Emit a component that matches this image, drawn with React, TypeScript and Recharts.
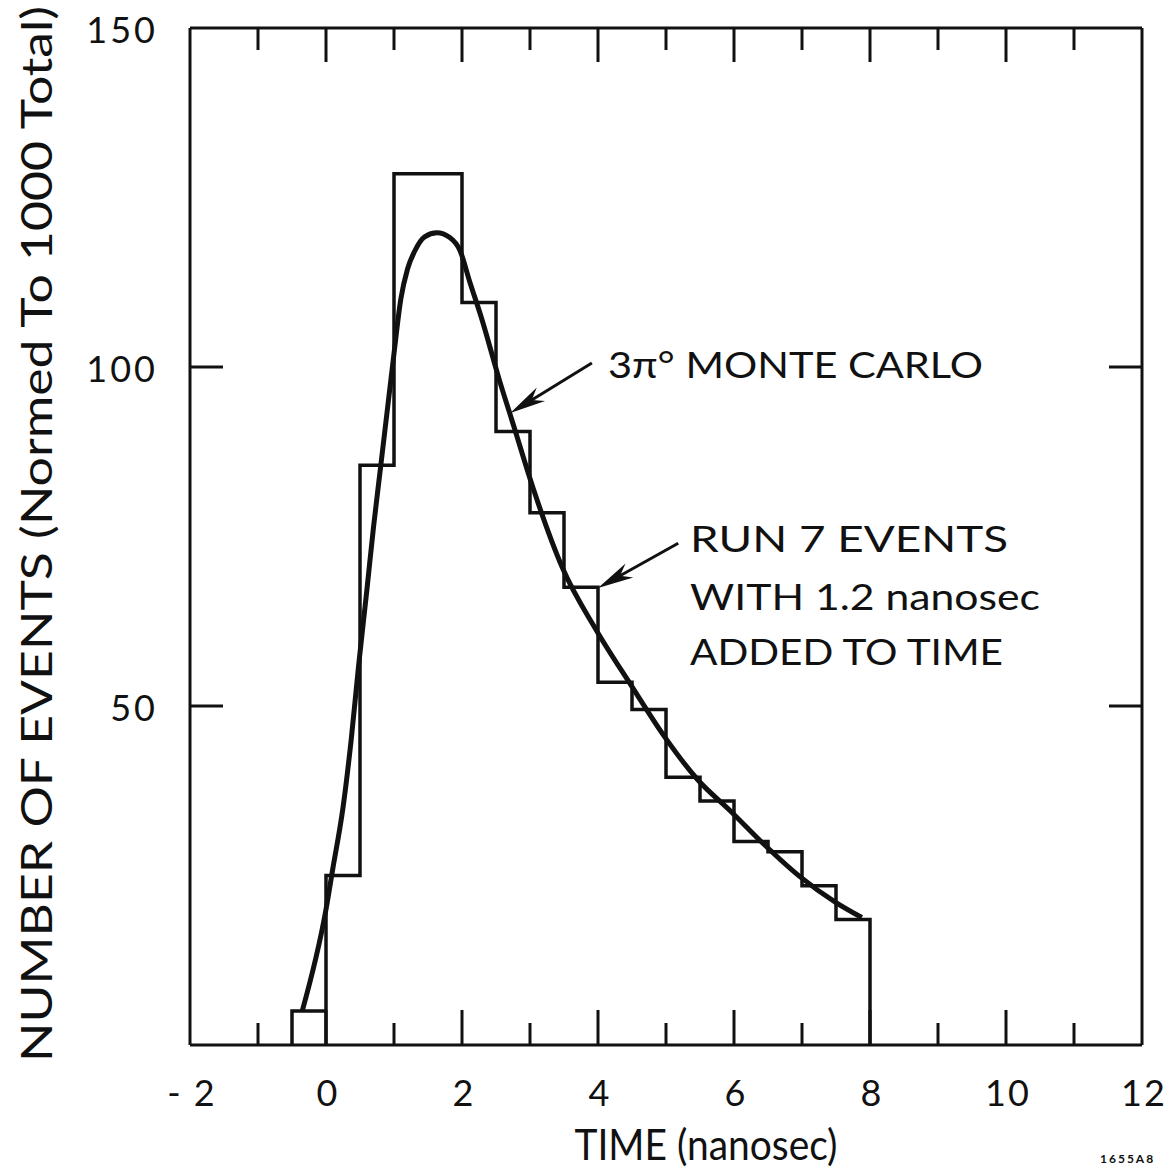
import {
    ComposedChart,
    Line,
    XAxis,
    YAxis,
    ReferenceLine,
} from "recharts";

// histogram: 0.5 ns bins, left edges and heights
const binStarts = [-0.5, 0, 0.5, 1.0, 1.5, 2.0, 2.5, 3.0, 3.5, 4.0, 4.5, 5.0, 5.5, 6.0, 6.5, 7.0, 7.5];
const binCounts = [5, 25, 85.5, 128.5, 128.5, 109.5, 90.5, 78.5, 67.5, 53.5, 49.5, 39.5, 36, 30, 28.5, 23.5, 18.5];
const binWidth = 0.5;

// 3 pi0 Monte Carlo curve
const mcTime = [-0.35, 0.0, 0.1, 0.25, 0.37, 0.48, 0.6, 0.7, 0.8, 0.9, 1.0, 1.1, 1.2, 1.3, 1.45, 1.63, 1.82, 1.97, 2.11, 2.3, 2.54, 2.77, 3.05, 3.48, 3.98, 4.49, 4.97, 5.46, 5.97, 6.44, 6.96, 7.5, 7.88];
const mcEvents = [5, 20, 26, 35, 45, 56, 67, 76.5, 85, 93.5, 102, 110, 114.5, 117, 119.2, 119.8, 119.1, 117.2, 112.7, 106.8, 98.4, 91, 82, 70.3, 61.1, 53, 45.6, 39.2, 34.3, 29.6, 24.9, 21, 18.8];

const xTicks = [-2, -1, 0, 1, 2, 3, 4, 5, 6, 7, 8, 9, 10, 11, 12];
const xTickLabels = ["- 2", "", "0", "", "2", "", "4", "", "6", "", "8", "", "10", "", "12"];
const yTicks = [0, 50, 100, 150];
const yTickLabels = ["", "50", "100", "150"];

// arrows: [tail, tip] in data units
const mcArrow = [{ x: 3.91, y: 100.6 }, { x: 2.71, y: 93.2 }];
const runArrow = [{ x: 5.18, y: 74.0 }, { x: 4.0, y: 67.4 }];

const FONT = "Lato, 'DejaVu Sans', sans-serif";
const INK = "#111";

function buildHistogram() {
    const pts: { x: number; y: number }[] = [];
    const first = binStarts[0];
    pts.push({ x: first, y: 0 });
    pts.push({ x: first, y: binCounts[0] });
    // close the first box down to the baseline
    pts.push({ x: first + binWidth, y: 0 });
    for (let i = 1; i < binStarts.length; i++) {
        pts.push({ x: binStarts[i], y: binCounts[i] });
    }
    const end = binStarts[binStarts.length - 1] + binWidth;
    pts.push({ x: end, y: binCounts[binCounts.length - 1] });
    pts.push({ x: end, y: 0 });
    return pts;
}

const histData = buildHistogram();
const curveData = mcTime.map((t, i) => ({ x: t, y: mcEvents[i] }));

function BottomTick(props: any) {
    const { x, y, payload } = props;
    const v = payload.value;
    const i = xTicks.indexOf(v);
    const major = v % 2 === 0;
    const inner = v > xTicks[0] && v < xTicks[xTicks.length - 1];
    return (
        <g>
            {inner && (
                <line x1={x} y1={y} x2={x} y2={y - (major ? 35 : 22)} stroke={INK} strokeWidth={3} />
            )}
            <text x={x + 2} y={y + 61} textAnchor="middle" fontSize={36} letterSpacing={2} fontFamily={FONT} fill={INK}>
                {xTickLabels[i]}
            </text>
        </g>
    );
}

function TopTick(props: any) {
    const { x, y, payload } = props;
    const v = payload.value;
    const major = v % 2 === 0;
    const inner = v > xTicks[0] && v < xTicks[xTicks.length - 1];
    if (!inner) return <g />;
    return <line x1={x} y1={y} x2={x} y2={y + (major ? 34 : 22)} stroke={INK} strokeWidth={3} />;
}

function LeftTick(props: any) {
    const { x, y, payload } = props;
    const v = payload.value;
    const i = yTicks.indexOf(v);
    const inner = v > yTicks[0] && v < yTicks[yTicks.length - 1];
    return (
        <g>
            {inner && <line x1={x} y1={y} x2={x + 33} y2={y} stroke={INK} strokeWidth={3} />}
            <text x={x - 32} y={y + 15} textAnchor="end" fontSize={36} letterSpacing={3} fontFamily={FONT} fill={INK}>
                {yTickLabels[i]}
            </text>
        </g>
    );
}

function RightTick(props: any) {
    const { x, y, payload } = props;
    const v = payload.value;
    const inner = v > yTicks[0] && v < yTicks[yTicks.length - 1];
    if (!inner) return <g />;
    return <line x1={x} y1={y} x2={x - 33} y2={y} stroke={INK} strokeWidth={3} />;
}

function Arrow(props: any) {
    const { x1, y1, x2, y2 } = props;
    const ang = Math.atan2(y2 - y1, x2 - x1);
    const len = 36;
    const half = 8;
    const bx = x2 - len * Math.cos(ang);
    const by = y2 - len * Math.sin(ang);
    const nx = -Math.sin(ang) * half;
    const ny = Math.cos(ang) * half;
    const mx = bx + len * 0.3 * Math.cos(ang);
    const my = by + len * 0.3 * Math.sin(ang);
    return (
        <g>
            <line x1={x1} y1={y1} x2={mx} y2={my} stroke={INK} strokeWidth={3} />
            <polygon points={`${x2},${y2} ${bx + nx},${by + ny} ${mx},${my} ${bx - nx},${by - ny}`} fill={INK} />
        </g>
    );
}

const axisLine = { stroke: INK, strokeWidth: 3 };

export default function App() {
    return (
        <div style={{ position: "absolute", left: 0, top: 0, width: 1168, height: 1174, background: "#fff" }}>
            <ComposedChart
                width={1168}
                height={1174}
                margin={{ top: 27, right: 25, bottom: 128, left: 189 }}
            >
                <XAxis
                    xAxisId="bottom"
                    type="number"
                    dataKey="x"
                    domain={[-2, 12]}
                    ticks={xTicks}
                    interval={0}
                    allowDataOverflow
                    height={1}
                    tickSize={0}
                    tickMargin={0}
                    tickLine={false}
                    axisLine={axisLine}
                    tick={<BottomTick />}
                />
                <XAxis
                    xAxisId="top"
                    orientation="top"
                    type="number"
                    dataKey="x"
                    domain={[-2, 12]}
                    ticks={xTicks}
                    interval={0}
                    allowDataOverflow
                    height={1}
                    tickSize={0}
                    tickMargin={0}
                    tickLine={false}
                    axisLine={axisLine}
                    tick={<TopTick />}
                />
                <YAxis
                    yAxisId="left"
                    type="number"
                    domain={[0, 150]}
                    ticks={yTicks}
                    interval={0}
                    allowDataOverflow
                    width={1}
                    tickSize={0}
                    tickMargin={0}
                    tickLine={false}
                    axisLine={axisLine}
                    tick={<LeftTick />}
                />
                <YAxis
                    yAxisId="right"
                    orientation="right"
                    type="number"
                    domain={[0, 150]}
                    ticks={yTicks}
                    interval={0}
                    allowDataOverflow
                    width={1}
                    tickSize={0}
                    tickMargin={0}
                    tickLine={false}
                    axisLine={axisLine}
                    tick={<RightTick />}
                />
                <Line
                    data={histData}
                    xAxisId="bottom"
                    yAxisId="left"
                    dataKey="y"
                    type="stepAfter"
                    stroke={INK}
                    strokeWidth={3.5}
                    dot={false}
                    activeDot={false}
                    isAnimationActive={false}
                />
                <Line
                    data={curveData}
                    xAxisId="bottom"
                    yAxisId="left"
                    dataKey="y"
                    type="monotone"
                    stroke={INK}
                    strokeWidth={5}
                    dot={false}
                    activeDot={false}
                    isAnimationActive={false}
                />
                <ReferenceLine xAxisId="bottom" yAxisId="left" segment={mcArrow} shape={(p: any) => <Arrow {...p} />} />
                <ReferenceLine xAxisId="bottom" yAxisId="left" segment={runArrow} shape={(p: any) => <Arrow {...p} />} />

                <text x={608} y={378} fontSize={37} fontFamily={FONT} fill={INK} textLength={375} lengthAdjust="spacingAndGlyphs">
                    3π° MONTE CARLO
                </text>
                <text x={690} y={552} fontSize={37} fontFamily={FONT} fill={INK} textLength={318} lengthAdjust="spacingAndGlyphs">
                    RUN  7 EVENTS
                </text>
                <text x={690} y={610} fontSize={37} fontFamily={FONT} fill={INK} textLength={350} lengthAdjust="spacingAndGlyphs">
                    WITH 1.2 nanosec
                </text>
                <text x={690} y={665} fontSize={37} fontFamily={FONT} fill={INK} textLength={313} lengthAdjust="spacingAndGlyphs">
                    ADDED TO TIME
                </text>

                <text x={706} y={1160} textAnchor="middle" fontSize={42} fontFamily={FONT} fill={INK} textLength={263} lengthAdjust="spacingAndGlyphs">
                    TIME (nanosec)
                </text>
                <text
                    transform="translate(52, 534) rotate(-90)"
                    textAnchor="middle"
                    fontSize={42}
                    fontFamily={FONT}
                    fill={INK}
                    textLength={1056}
                    lengthAdjust="spacingAndGlyphs"
                >
                    NUMBER OF EVENTS (Normed To 1000 Total)
                </text>
                <text x={1100} y={1163} fontSize={12} fontWeight="bold" fontFamily={FONT} fill={INK} letterSpacing={2}>
                    1655A8
                </text>
            </ComposedChart>
        </div>
    );
}
